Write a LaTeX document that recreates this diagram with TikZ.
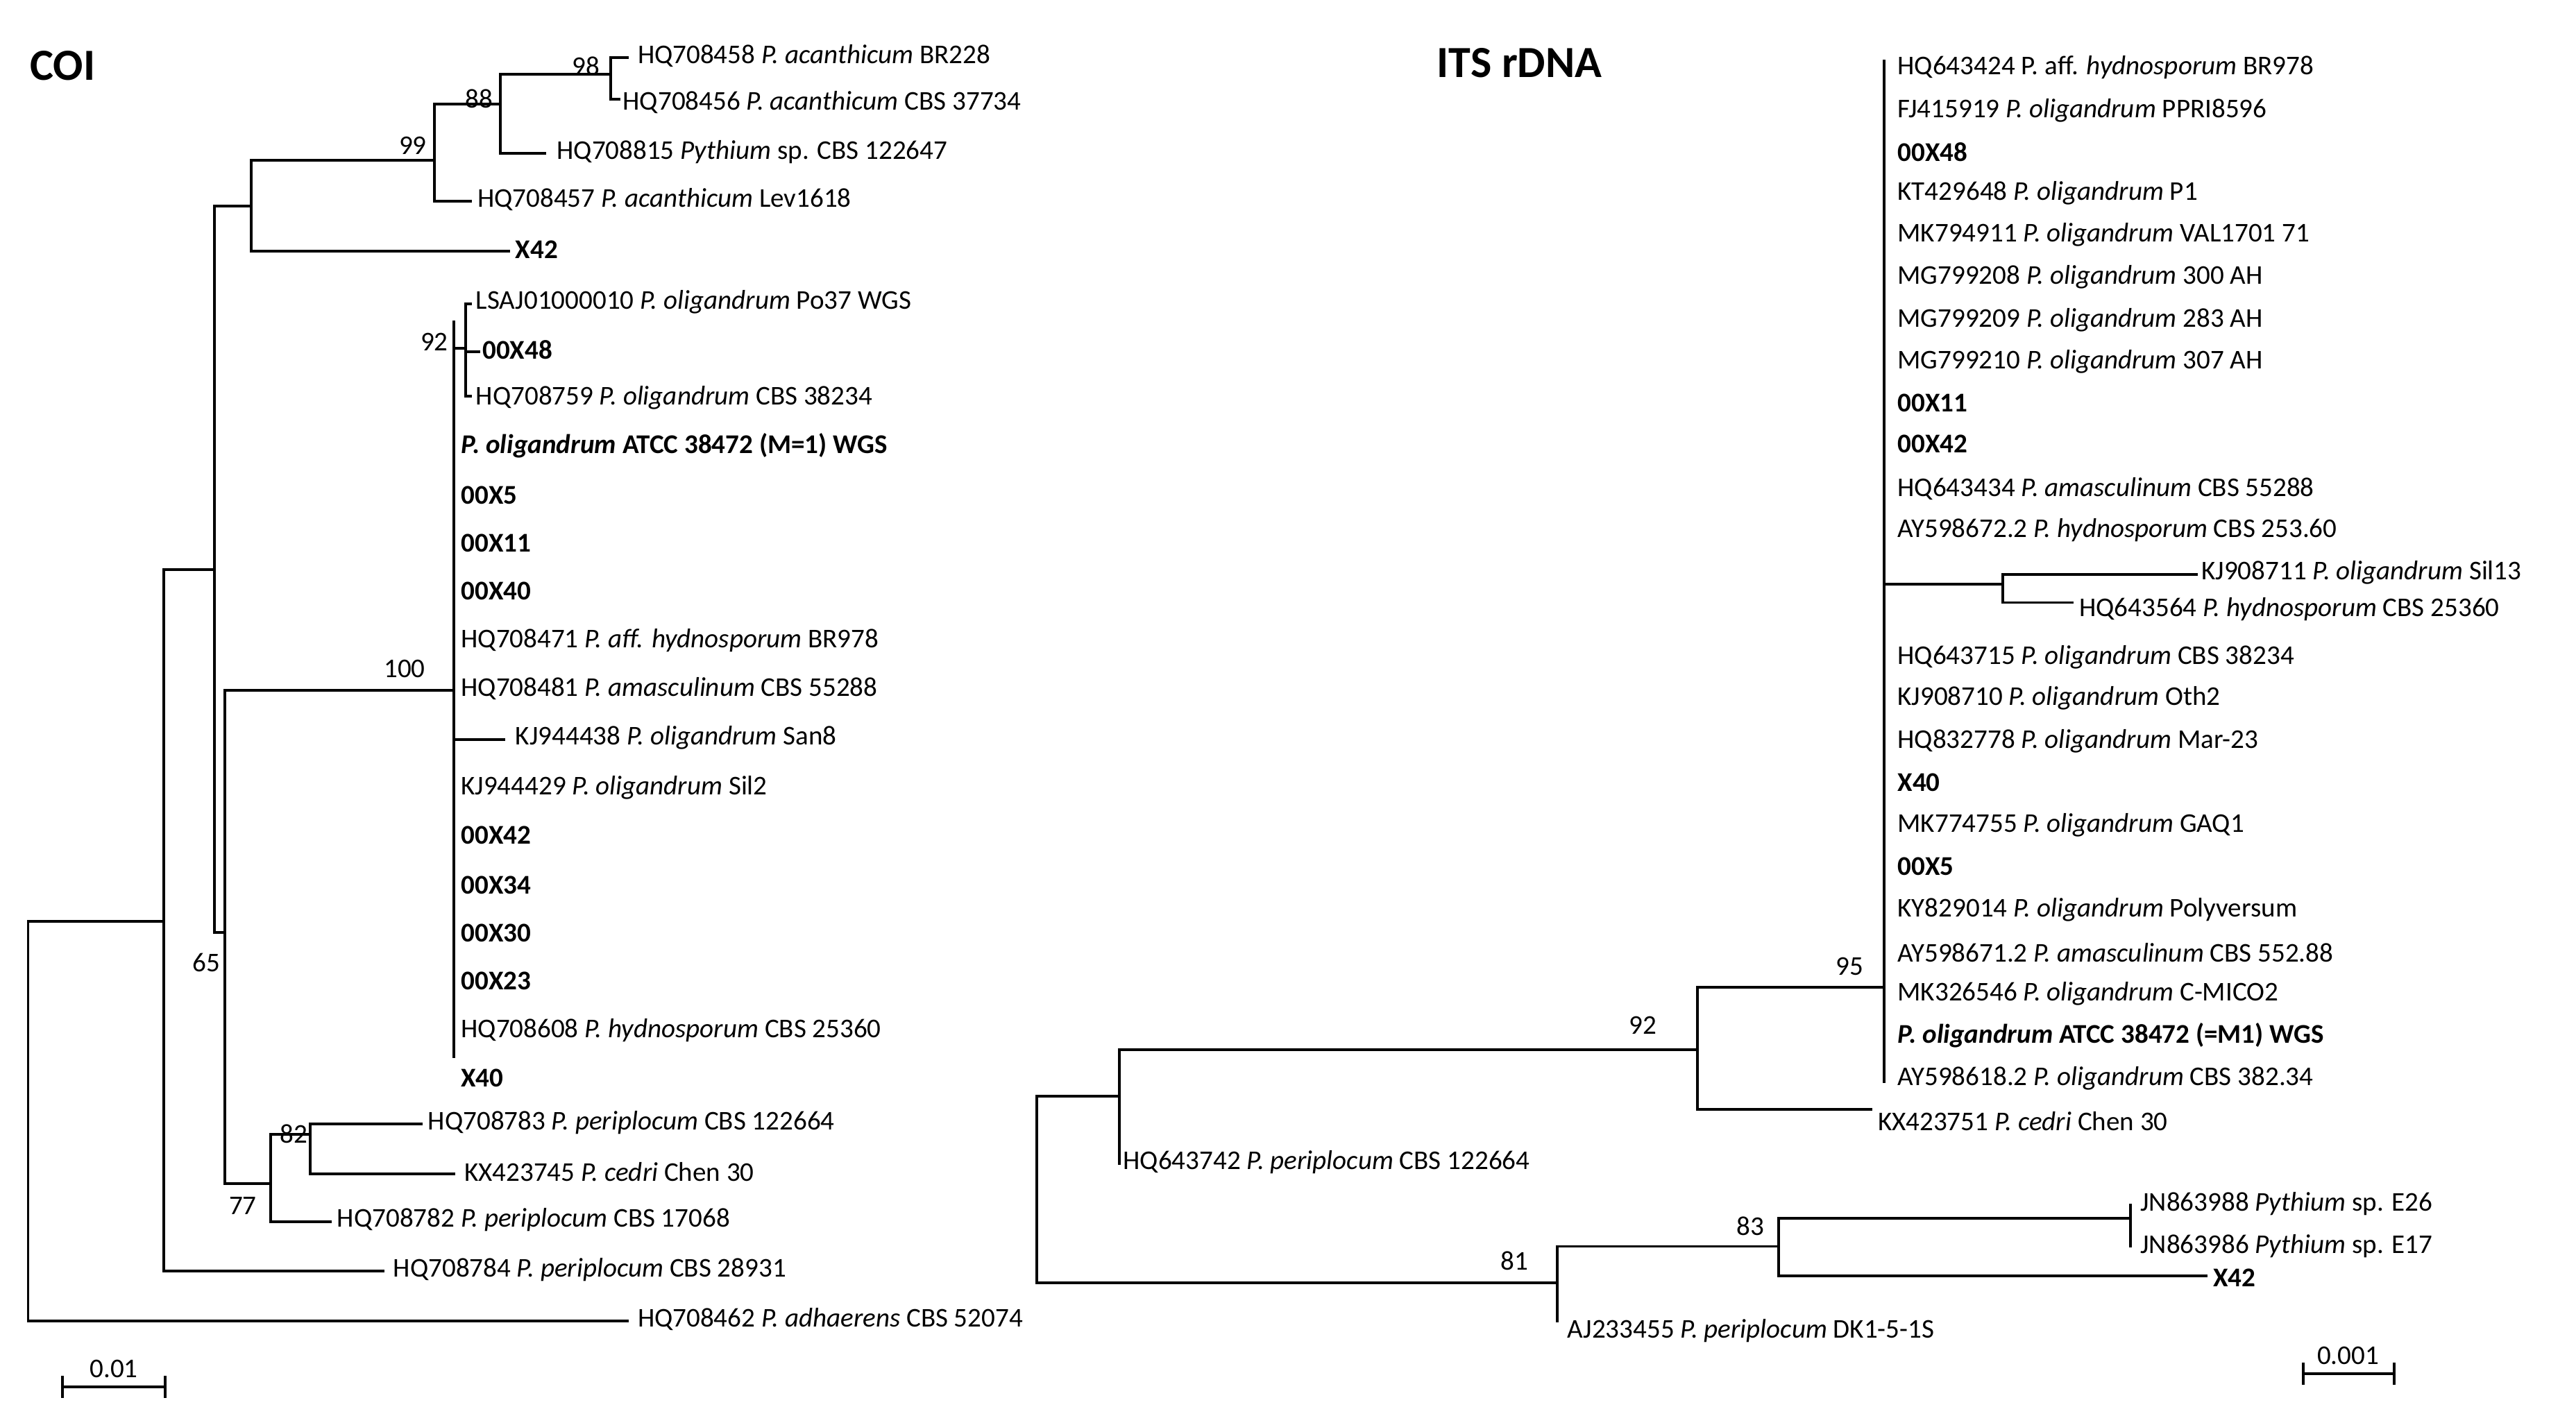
\documentclass[tikz,border=0pt]{standalone}
\usepackage{fontspec}
\setmainfont{Carlito}
\begin{document}
\begin{tikzpicture}[x=0.03cm,y=-0.03cm,
  br/.style={line width=1.4pt,line cap=rect},
  lab/.style={anchor=west,inner sep=0pt,font=\fontsize{14}{16}\selectfont},
  bs/.style={anchor=south,inner sep=1pt,font=\fontsize{14}{16}\selectfont}]
\useasboundingbox (0,0) rectangle (1560,852);
\newcommand\lf[4]{\node[lab] (#1) at (#2,#3) {#4};}
\node[anchor=west,inner sep=0pt,font=\fontsize{23}{25}\selectfont\bfseries] (t1) at (18,40) {COI};
\node[anchor=west,inner sep=0pt,font=\fontsize{23}{25}\selectfont\bfseries] (t2) at (870,38) {ITS rDNA};
% COI tree
\draw[br] (380,800) -- (17,800) -- (17,558) -- (99,558);
\draw[br] (99,345) -- (99,770) -- (232,770);
\draw[br] (99,345) -- (130,345);
\draw[br] (130,125) -- (130,565) -- (136,565);
\draw[br] (130,125) -- (152,125);
\draw[br] (308,152) -- (152,152) -- (152,97) -- (263,97);
\draw[br] (285,122) -- (263,122) -- (263,63) -- (303,63);
\draw[br] (330,93) -- (303,93) -- (303,45) -- (370,45);
\draw[br] (380,35) -- (370,35) -- (370,60) -- (375,60);
\draw[br] (136,418) -- (136,717) -- (164,717);
\draw[br] (136,418) -- (275,418);
\draw[br] (275,195) -- (275,640);
\draw[br] (275,211) -- (282,211);
\draw[br] (285,184) -- (282,184) -- (282,240) -- (285,240);
\draw[br] (282,213) -- (290,213);
\draw[br] (275,448) -- (305,448);
\draw[br] (200,740) -- (164,740) -- (164,687) -- (188,687);
\draw[br] (275,711) -- (188,711) -- (188,681) -- (255,681);
\node[bs] (n98) at (355,47) {98};
\node[bs] (n88) at (290,67) {88};
\node[bs] (n99) at (250,95) {99};
\node[bs] (n92) at (263,214) {92};
\node[bs] (n100) at (245,412) {100};
\node[bs] (n65) at (125,590) {65};
\node[bs] (n82) at (178,694) {82};
\node[bs] (n77) at (147,737) {77};
\lf{c1}{386}{34}{HQ708458 \textit{P. acanthicum} BR228}
\lf{c2}{377}{62}{HQ708456 \textit{P. acanthicum} CBS 37734}
\lf{c3}{337}{92}{HQ708815 \textit{Pythium} sp. CBS 122647}
\lf{c4}{289}{121}{HQ708457 \textit{P. acanthicum} Lev1618}
\lf{c5}{312}{151}{\textbf{X42}}
\lf{c6}{288}{183}{LSAJ01000010 \textit{P. oligandrum} Po37 WGS}
\lf{c7}{292}{212}{\textbf{00X48}}
\lf{c8}{288}{241}{HQ708759 \textit{P. oligandrum} CBS 38234}
\lf{c9}{279}{270}{\textbf{\textit{P. oligandrum} ATCC 38472 (M=1) WGS}}
\lf{c10}{279}{300}{\textbf{00X5}}
\lf{c11}{279}{329}{\textbf{00X11}}
\lf{c12}{279}{358}{\textbf{00X40}}
\lf{c13}{279}{388}{HQ708471 \textit{P. aff. hydnosporum} BR978}
\lf{c14}{279}{417}{HQ708481 \textit{P. amasculinum} CBS 55288}
\lf{c15}{312}{447}{KJ944438 \textit{P. oligandrum} San8}
\lf{c16}{279}{477}{KJ944429 \textit{P. oligandrum} Sil2}
\lf{c17}{279}{506}{\textbf{00X42}}
\lf{c18}{279}{536}{\textbf{00X34}}
\lf{c19}{279}{565}{\textbf{00X30}}
\lf{c20}{279}{594}{\textbf{00X23}}
\lf{c21}{279}{624}{HQ708608 \textit{P. hydnosporum} CBS 25360}
\lf{c22}{279}{653}{\textbf{X40}}
\lf{c23}{259}{680}{HQ708783 \textit{P. periplocum} CBS 122664}
\lf{c24}{281}{710}{KX423745 \textit{P. cedri} Chen 30}
\lf{c25}{204}{739}{HQ708782 \textit{P. periplocum} CBS 17068}
\lf{c26}{238}{769}{HQ708784 \textit{P. periplocum} CBS 28931}
\lf{c27}{386}{799}{HQ708462 \textit{P. adhaerens} CBS 52074}
\draw[br] (38,840) -- (100,840);
\draw[br] (38,834) -- (38,846) (100,834) -- (100,846);
\node[bs] (s1) at (69,836) {0.01};
% ITS tree
\draw[br] (678,664) -- (628,664) -- (628,777) -- (943,777);
\draw[br] (678,636) -- (678,705);
\draw[br] (678,636) -- (1028,636);
\draw[br] (1133,672) -- (1028,672) -- (1028,598) -- (1141,598);
\draw[br] (1141,37) -- (1141,655);
\draw[br] (1141,354) -- (1213,354);
\draw[br] (1330,348) -- (1213,348) -- (1213,365) -- (1255,365);
\draw[br] (943,755) -- (943,800);
\draw[br] (943,755) -- (1077,755);
\draw[br] (1336,773) -- (1077,773) -- (1077,738) -- (1290,738);
\draw[br] (1290,730) -- (1290,755);
\node[bs] (n95) at (1120,592) {95};
\node[bs] (n92b) at (995,628) {92};
\node[bs] (n81) at (917,771) {81};
\node[bs] (n83) at (1060,750) {83};
\lf{i1}{1149}{41}{HQ643424 P. aff. \textit{hydnosporum} BR978}
\lf{i2}{1149}{67}{FJ415919 \textit{P. oligandrum} PPRI8596}
\lf{i3}{1149}{92}{\textbf{00X48}}
\lf{i4}{1149}{117}{KT429648 \textit{P. oligandrum} P1}
\lf{i5}{1149}{142}{MK794911 \textit{P. oligandrum} VAL1701 71}
\lf{i6}{1149}{168}{MG799208 \textit{P. oligandrum} 300 AH}
\lf{i7}{1149}{194}{MG799209 \textit{P. oligandrum} 283 AH}
\lf{i8}{1149}{219}{MG799210 \textit{P. oligandrum} 307 AH}
\lf{i9}{1149}{244}{\textbf{00X11}}
\lf{i10}{1149}{269}{\textbf{00X42}}
\lf{i11}{1149}{296}{HQ643434 \textit{P. amasculinum} CBS 55288}
\lf{i12}{1149}{321}{AY598672.2 \textit{P. hydnosporum} CBS 253.60}
\lf{i13}{1333}{347}{KJ908711 \textit{P. oligandrum} Sil13}
\lf{i14}{1259}{369}{HQ643564 \textit{P. hydnosporum} CBS 25360}
\lf{i15}{1149}{398}{HQ643715 \textit{P. oligandrum} CBS 38234}
\lf{i16}{1149}{423}{KJ908710 \textit{P. oligandrum} Oth2}
\lf{i17}{1149}{449}{HQ832778 \textit{P. oligandrum} Mar-23}
\lf{i18}{1149}{474}{\textbf{X40}}
\lf{i19}{1149}{500}{MK774755 \textit{P. oligandrum} GAQ1}
\lf{i20}{1149}{525}{\textbf{00X5}}
\lf{i21}{1149}{551}{KY829014 \textit{P. oligandrum} Polyversum}
\lf{i22}{1149}{577}{AY598671.2 \textit{P. amasculinum} CBS 552.88}
\lf{i23}{1149}{602}{MK326546 \textit{P. oligandrum} C-MICO2}
\lf{i24}{1149}{627}{\textbf{\textit{P. oligandrum} ATCC 38472 (=M1) WGS}}
\lf{i25}{1149}{653}{AY598618.2 \textit{P. oligandrum} CBS 382.34}
\lf{i26}{1137}{679}{KX423751 \textit{P. cedri} Chen 30}
\lf{i27}{680}{704}{HQ643742 \textit{P. periplocum} CBS 122664}
\lf{i28}{1296}{729}{JN863988 \textit{Pythium} sp. E26}
\lf{i29}{1296}{755}{JN863986 \textit{Pythium} sp. E17}
\lf{i30}{1340}{774}{\textbf{X42}}
\lf{i31}{949}{806}{AJ233455 \textit{P. periplocum} DK1-5-1S}
\draw[br] (1395,832) -- (1450,832);
\draw[br] (1395,826) -- (1395,838) (1450,826) -- (1450,838);
\node[bs] (s2) at (1422,828) {0.001};
\end{tikzpicture}
\end{document}
